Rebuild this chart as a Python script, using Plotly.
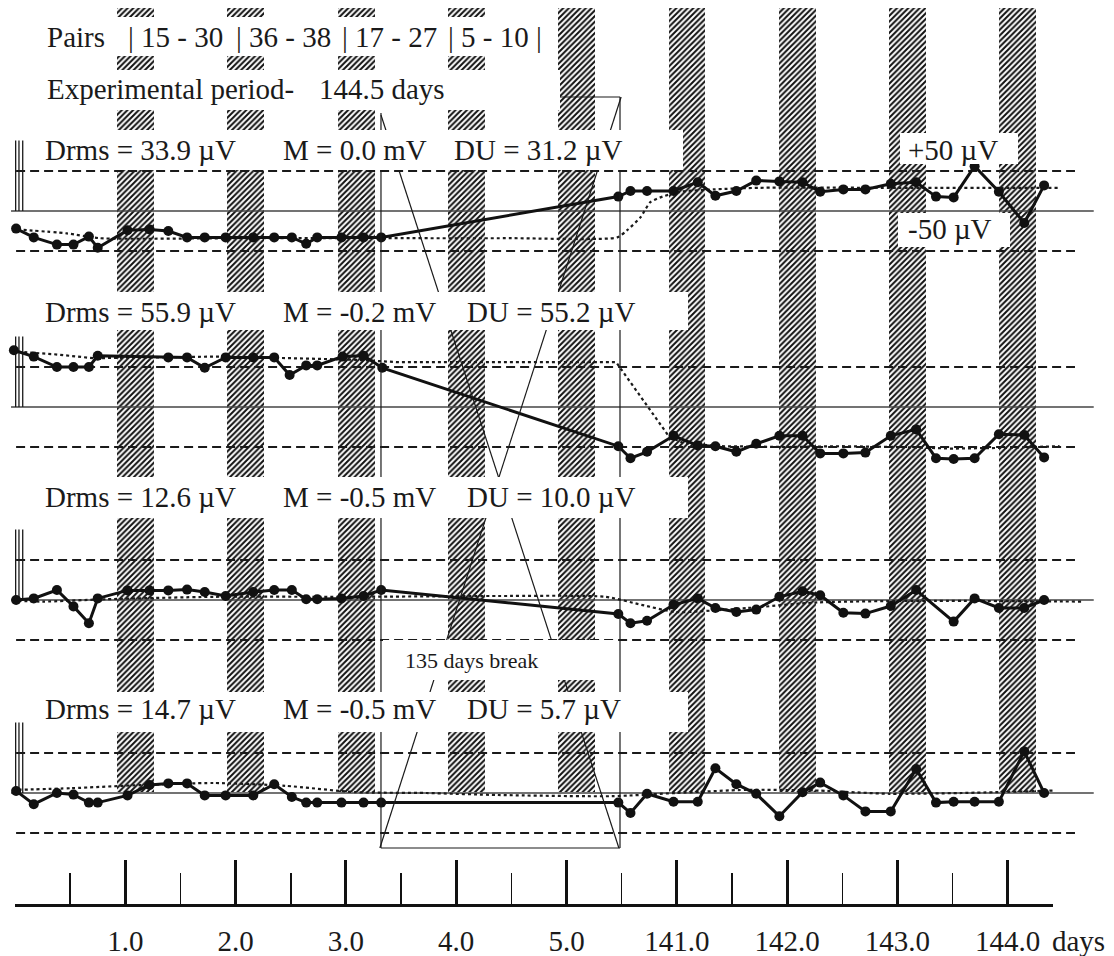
import plotly.graph_objects as go

W, H = 1114, 956
FONT = "Liberation Serif"
INK = "#1a1a1a"

# ---------------- data (x in axis units: one unit per major tick) ----------------
tick_vals = [0, 1, 2, 3, 4, 5, 6, 7, 8, 9]
tick_text = ["", "1.0", "2.0", "3.0", "4.0", "5.0", "141.0", "142.0", "143.0", "144.0"]
minor_vals = [0.5, 1.5, 2.5, 3.5, 4.5, 5.5, 6.5, 7.5, 8.5]

band_starts = [0.925, 1.925, 2.925, 3.925, 4.925, 5.925, 6.925, 7.925, 8.925]
band_width = 0.335

break_start = 3.318
break_end = 5.485

seg1_t = [0.01, 0.17, 0.38, 0.53, 0.67, 0.75, 1.02, 1.22, 1.39, 1.56,
          1.72, 1.91, 2.16, 2.35, 2.51, 2.64, 2.74, 2.96, 3.16, 3.32]
seg2_t = [5.47, 5.58, 5.73, 5.97, 6.19, 6.35, 6.54, 6.72, 6.93, 7.14,
          7.30, 7.51, 7.71, 7.94, 8.17, 8.35, 8.51, 8.70, 8.92, 9.15, 9.33]

# panel 1
p1_t = seg1_t + seg2_t
p1_v = [-22, -33, -42, -42, -32, -46, -24, -23, -25, -33,
        -33, -33, -33, -33, -33, -41, -33, -33, -33, -33,
        18, 25, 25, 25, 36, 19, 25, 38, 37, 36,
        24, 27, 27, 34, 36, 18, 17, 56, 24, -15, 32]
p1_smooth_t = [0.02, 0.47, 0.77, 2.0, 3.31, 4.5, 5.46, 5.55, 5.67, 5.76, 5.87, 6.03, 6.33, 6.75, 8.0, 9.47]
p1_smooth_v = [-23, -28, -34, -34, -34, -34, -33, -24, -8, 11, 18, 24, 27, 29, 29, 29]

# panel 2
p2_t = [-0.01, 0.17, 0.38, 0.53, 0.67, 0.75, 1.39, 1.56, 1.72, 1.91,
        2.16, 2.35, 2.49, 2.64, 2.74, 2.97, 3.16, 3.33] + seg2_t
p2_v = [71, 63, 50, 50, 50, 64, 62, 62, 49, 62,
        62, 62, 40, 52, 52, 63, 64, 49,
        -49, -64, -56, -36, -48, -49, -56, -46, -36, -36,
        -58, -58, -57, -36, -28, -64, -65, -64, -34, -35, -63]
p2_smooth_t = [0.03, 0.35, 0.71, 1.20, 1.80, 2.50, 3.09, 3.48, 4.50, 5.45,
               5.93, 6.06, 6.40, 7.00, 7.50, 8.00, 8.50, 9.00, 9.47]
p2_smooth_v = [69, 66, 61, 62, 63, 61, 59, 56, 56, 56,
               -37, -45, -49, -50, -49, -50, -52, -51, -49]

# panel 3
p3_t = seg1_t + [5.47, 5.58, 5.73, 5.97, 6.19, 6.35, 6.54, 6.72, 6.93, 7.14,
                 7.30, 7.51, 7.71, 7.94, 8.17, 8.51, 8.70, 8.92, 9.15, 9.33]
p3_v = [0, 2, 12.5, -8, -29, 2, 12, 12, 12, 13,
        10, 5, 10, 12.5, 12.5, 1, 1, 2, 5, 12.5,
        -17.5, -29, -26, -6, 2, -10, -15, -12, 4, 11,
        6, -16, -17, -7.5, 12.5, -27, 2, -10, -10, 0]
p3_smooth_t = [0.03, 0.25, 0.83, 1.80, 3.09, 4.38, 5.35, 5.68, 5.99, 6.64, 7.28, 8.25, 9.68]
p3_smooth_v = [-1, -2, 1, 4, 4, 5, 4, -6, -15, -10, -3, -1, -2]

# panel 4
p4_t = seg1_t + seg2_t
p4_v = [2.6, -14, 0, -2, -12, -12, -3, 10, 12, 12,
        -3, -3, -3, 11, -5, -12, -12, -12, -12, -12,
        -12, -25, -1, -11, -11, 31, 11, -1, -29, 1,
        13, -3, -23, -23, 30, -12, -11, -11, -11, 52, 0]
p4_smooth_t = [0.03, 0.51, 1.15, 1.80, 2.45, 3.09, 3.73, 4.38, 5.41, 5.99, 6.64, 7.28, 7.93, 8.58, 9.41]
p4_smooth_v = [4, 6, 10, 12.5, 9, 1, 0, -2.5, -4, 0, 4, 3, -1, 0, 3]

panels = [
    dict(t=p1_t, v=p1_v, st=p1_smooth_t, sv=p1_smooth_v, shape="spline",
         drms="Drms = 33.9 µV", m="M = 0.0 mV", du="DU = 31.2 µV"),
    dict(t=p2_t, v=p2_v, st=p2_smooth_t, sv=p2_smooth_v, shape="linear",
         drms="Drms = 55.9 µV", m="M = -0.2 mV", du="DU = 55.2 µV"),
    dict(t=p3_t, v=p3_v, st=p3_smooth_t, sv=p3_smooth_v, shape="spline",
         drms="Drms = 12.6 µV", m="M = -0.5 mV", du="DU = 10.0 µV"),
    dict(t=p4_t, v=p4_v, st=p4_smooth_t, sv=p4_smooth_v, shape="spline",
         drms="Drms = 14.7 µV", m="M = -0.5 mV", du="DU = 5.7 µV"),
]
limit_uv = 50
scale_bar_uv = 88

pairs_labels = ["| 15 - 30", "| 36 - 38", "| 17 - 27", "| 5 - 10 |"]

# ---------------- layout constants (pixels) ----------------
panel_zero_px = [211, 407, 600, 793]
panel_text_px = [150, 312, 497, 709]
panel_du_x = [452, 465, 465, 465]
half_px = 80          # 100 µV
band_top_px, band_bot_px = 8, 792


def py(p):
    return 1 - p / H


def px(p):
    return p / W


fig = go.Figure()

# hatched bands (full-height subplot, drawn first)
fig.add_trace(go.Bar(
    x=[b + band_width / 2 for b in band_starts],
    y=[py(band_top_px) - py(band_bot_px)] * len(band_starts),
    base=[py(band_bot_px)] * len(band_starts),
    width=band_width,
    marker=dict(color="white", line=dict(width=0),
                pattern=dict(shape="/", fgcolor="#111", bgcolor="white",
                             size=4, solidity=0.5, fillmode="replace")),
    xaxis="x", yaxis="y", hoverinfo="skip", showlegend=False,
))

x_lo, x_hi = -0.036, 9.78
d_lo, d_hi = 0.01, 9.61
for i, p in enumerate(panels):
    ya = "y%d" % (i + 2)
    for lv in (limit_uv, -limit_uv):
        fig.add_trace(go.Scatter(x=[d_lo, d_hi], y=[lv, lv], mode="lines",
                                 line=dict(color=INK, width=2, dash="9px,5px"),
                                 xaxis="x", yaxis=ya, hoverinfo="skip", showlegend=False))
    fig.add_trace(go.Scatter(x=[x_lo, x_hi], y=[0, 0], mode="lines",
                             line=dict(color="#444", width=1.3),
                             xaxis="x", yaxis=ya, hoverinfo="skip", showlegend=False))
    fig.add_trace(go.Scatter(x=[0.006, 0.006, None, 0.036, 0.036, None, 0.07, 0.07],
                             y=[0, scale_bar_uv, None, 0, scale_bar_uv, None, 0, scale_bar_uv],
                             mode="lines", line=dict(color=INK, width=1.3),
                             xaxis="x", yaxis=ya, hoverinfo="skip", showlegend=False))
    fig.add_trace(go.Scatter(x=p["st"], y=p["sv"], mode="lines",
                             line=dict(color=INK, width=2.2, dash="dot", shape=p["shape"], smoothing=0.6),
                             xaxis="x", yaxis=ya, hoverinfo="skip", showlegend=False))
    fig.add_trace(go.Scatter(x=p["t"], y=p["v"], mode="lines+markers",
                             line=dict(color="#111", width=3),
                             marker=dict(color="#111", size=10),
                             cliponaxis=False,
                             xaxis="x", yaxis=ya, hoverinfo="skip", showlegend=False))

# invisible trace so the bottom time axis is drawn
fig.add_trace(go.Scatter(x=[tick_vals[0]], y=[None], mode="markers",
                         xaxis="x2", yaxis="y", showlegend=False, hoverinfo="skip"))

# ---------------- shapes: break callout lines then white label boxes ----------------
shapes = []
ln = dict(color=INK, width=1.2)
shapes += [
    dict(type="line", xref="x", yref="paper", x0=break_start, x1=break_start, y0=py(113), y1=py(848), line=ln, layer="above"),
    dict(type="line", xref="x", yref="paper", x0=break_end, x1=break_end, y0=py(97), y1=py(848), line=ln, layer="above"),
    dict(type="line", xref="x", yref="paper", x0=break_start, x1=break_end, y0=py(97), y1=py(97), line=ln, layer="above"),
    dict(type="line", xref="x", yref="paper", x0=break_start, x1=break_end, y0=py(848), y1=py(848), line=ln, layer="above"),
    dict(type="line", xref="x", yref="paper", x0=break_start, x1=break_end - 0.01, y0=py(115), y1=py(848), line=ln, layer="above"),
    dict(type="line", xref="x", yref="paper", x0=break_end + 0.01, x1=break_start - 0.01, y0=py(97), y1=py(848), line=ln, layer="above"),
]

boxes = [
    (38, 17, 548, 56), (38, 70, 560, 110),
    (28, 130, 683, 170), (28, 292, 688, 330), (28, 477, 688, 518), (28, 692, 688, 732),
    (900, 133, 1018, 164), (898, 213, 1010, 247),
    (383, 640, 618, 680),
]
for x0, y0, x1, y1 in boxes:
    shapes.append(dict(type="rect", xref="paper", yref="paper",
                       x0=px(x0), x1=px(x1), y0=py(y1), y1=py(y0),
                       fillcolor="white", line=dict(width=0), layer="above"))

# ---------------- annotations ----------------
ann = []


def text(s, x, y, size=29, anchor="left"):
    ann.append(dict(text=s, x=px(x), y=py(y), xref="paper", yref="paper",
                    xanchor=anchor, yanchor="middle", showarrow=False,
                    font=dict(family=FONT, size=size, color=INK)))


text("Pairs", 45, 37)
for lab, xp in zip(pairs_labels, [126, 234, 340, 446]):
    text(lab, xp, 37)
text("Experimental period-", 45, 89)
text("144.5 days", 317, 89)
for i, p in enumerate(panels):
    text(p["drms"], 43, panel_text_px[i])
    text(p["m"], 281, panel_text_px[i])
    text(p["du"], panel_du_x[i], panel_text_px[i])
text("+50 µV", 906, 150)
text("-50 µV", 906, 229)
text("135 days break", 403, 660, size=22)
text("days", 1107, 941, anchor="right")

# ---------------- layout ----------------
u_px = 110.3
x0_px = 15
layout = dict(
    width=W, height=H, margin=dict(l=0, r=0, t=0, b=0, pad=0, autoexpand=False),
    paper_bgcolor="white", plot_bgcolor="rgba(0,0,0,0)",
    showlegend=False, bargap=0,
    xaxis=dict(domain=[0, 1], range=[-x0_px / u_px, (W - x0_px) / u_px], visible=False,
               fixedrange=True, automargin=False),
    yaxis=dict(domain=[0, 1], range=[0, 1], visible=False, fixedrange=True, automargin=False),
    xaxis2=dict(domain=[px(x0_px), px(1053)], range=[0, (1053 - x0_px) / u_px],
                anchor="free", position=py(905), automargin=False,
                showline=True, linewidth=3, linecolor="#111", showgrid=False, zeroline=False,
                ticks="inside", ticklen=44, tickwidth=3, tickcolor="#111",
                tickmode="array", tickvals=tick_vals, ticktext=tick_text,
                ticklabelstandoff=9,
                tickfont=dict(family=FONT, size=29, color=INK),
                minor=dict(tickmode="array", tickvals=minor_vals, ticks="inside",
                           ticklen=31, tickwidth=1.5, tickcolor="#111", showgrid=False)),
    shapes=shapes, annotations=ann,
)
for i, zp in enumerate(panel_zero_px):
    layout["yaxis%d" % (i + 2)] = dict(
        domain=[py(zp + half_px), py(zp - half_px)], range=[-100, 100],
        anchor="x", visible=False, fixedrange=True, automargin=False)

fig.update_layout(**layout)
fig.write_html(
    "out.html",
    config={"displayModeBar": False, "staticPlot": True},
    post_script=(
        "var d=document.getElementById('{plot_id}');"
        "d.style.position='fixed';d.style.left='0px';d.style.top='0px';"
        "document.documentElement.style.overflow='hidden';"
        "document.body.style.margin='0px';document.body.style.padding='0px';"
        "document.body.style.overflow='hidden';"
    ),
)
